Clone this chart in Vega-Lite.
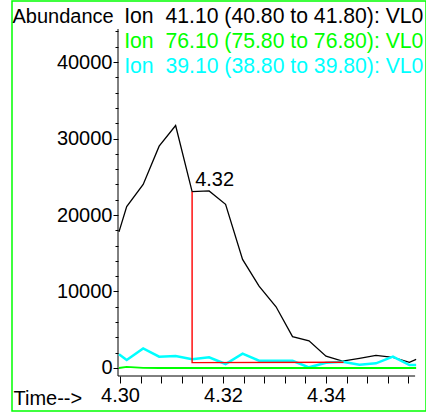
{
  "$schema": "https://vega.github.io/schema/vega-lite/v6.json",
  "autosize": {"type": "none"},
  "padding": {"left": 12, "top": 1, "right": 0, "bottom": 2},
  "width": 414,
  "height": 410,
  "config": {
    "view": {"stroke": "#00ff00", "strokeWidth": 1.5},
    "font": "Liberation Sans"
  },
  "datasets": {
    "ions": [
      {"t": 4.2998, "v": 17800, "ion": "Ion \u00a041.10 (40.80 to 41.80): VL0"},
      {"t": 4.3013, "v": 21100, "ion": "Ion \u00a041.10 (40.80 to 41.80): VL0"},
      {"t": 4.3045, "v": 24000, "ion": "Ion \u00a041.10 (40.80 to 41.80): VL0"},
      {"t": 4.3076, "v": 29000, "ion": "Ion \u00a041.10 (40.80 to 41.80): VL0"},
      {"t": 4.3108, "v": 31700, "ion": "Ion \u00a041.10 (40.80 to 41.80): VL0"},
      {"t": 4.3140, "v": 23050, "ion": "Ion \u00a041.10 (40.80 to 41.80): VL0"},
      {"t": 4.3173, "v": 23150, "ion": "Ion \u00a041.10 (40.80 to 41.80): VL0"},
      {"t": 4.3205, "v": 21400, "ion": "Ion \u00a041.10 (40.80 to 41.80): VL0"},
      {"t": 4.3238, "v": 14200, "ion": "Ion \u00a041.10 (40.80 to 41.80): VL0"},
      {"t": 4.3270, "v": 10700, "ion": "Ion \u00a041.10 (40.80 to 41.80): VL0"},
      {"t": 4.3303, "v": 8000, "ion": "Ion \u00a041.10 (40.80 to 41.80): VL0"},
      {"t": 4.3335, "v": 4100, "ion": "Ion \u00a041.10 (40.80 to 41.80): VL0"},
      {"t": 4.3367, "v": 3550, "ion": "Ion \u00a041.10 (40.80 to 41.80): VL0"},
      {"t": 4.3400, "v": 1550, "ion": "Ion \u00a041.10 (40.80 to 41.80): VL0"},
      {"t": 4.3432, "v": 900, "ion": "Ion \u00a041.10 (40.80 to 41.80): VL0"},
      {"t": 4.3465, "v": 1270, "ion": "Ion \u00a041.10 (40.80 to 41.80): VL0"},
      {"t": 4.3497, "v": 1650, "ion": "Ion \u00a041.10 (40.80 to 41.80): VL0"},
      {"t": 4.3530, "v": 1400, "ion": "Ion \u00a041.10 (40.80 to 41.80): VL0"},
      {"t": 4.3562, "v": 750, "ion": "Ion \u00a041.10 (40.80 to 41.80): VL0"},
      {"t": 4.3575, "v": 1130, "ion": "Ion \u00a041.10 (40.80 to 41.80): VL0"},
      {"t": 4.2998, "v": 1800, "ion": "Ion \u00a039.10 (38.80 to 39.80): VL0"},
      {"t": 4.3013, "v": 1050, "ion": "Ion \u00a039.10 (38.80 to 39.80): VL0"},
      {"t": 4.3045, "v": 2550, "ion": "Ion \u00a039.10 (38.80 to 39.80): VL0"},
      {"t": 4.3076, "v": 1480, "ion": "Ion \u00a039.10 (38.80 to 39.80): VL0"},
      {"t": 4.3108, "v": 1570, "ion": "Ion \u00a039.10 (38.80 to 39.80): VL0"},
      {"t": 4.3140, "v": 1140, "ion": "Ion \u00a039.10 (38.80 to 39.80): VL0"},
      {"t": 4.3173, "v": 1400, "ion": "Ion \u00a039.10 (38.80 to 39.80): VL0"},
      {"t": 4.3205, "v": 520, "ion": "Ion \u00a039.10 (38.80 to 39.80): VL0"},
      {"t": 4.3238, "v": 1870, "ion": "Ion \u00a039.10 (38.80 to 39.80): VL0"},
      {"t": 4.3270, "v": 950, "ion": "Ion \u00a039.10 (38.80 to 39.80): VL0"},
      {"t": 4.3303, "v": 950, "ion": "Ion \u00a039.10 (38.80 to 39.80): VL0"},
      {"t": 4.3335, "v": 950, "ion": "Ion \u00a039.10 (38.80 to 39.80): VL0"},
      {"t": 4.3367, "v": 90, "ion": "Ion \u00a039.10 (38.80 to 39.80): VL0"},
      {"t": 4.3400, "v": 690, "ion": "Ion \u00a039.10 (38.80 to 39.80): VL0"},
      {"t": 4.3432, "v": 820, "ion": "Ion \u00a039.10 (38.80 to 39.80): VL0"},
      {"t": 4.3465, "v": 430, "ion": "Ion \u00a039.10 (38.80 to 39.80): VL0"},
      {"t": 4.3497, "v": 610, "ion": "Ion \u00a039.10 (38.80 to 39.80): VL0"},
      {"t": 4.3530, "v": 1480, "ion": "Ion \u00a039.10 (38.80 to 39.80): VL0"},
      {"t": 4.3562, "v": 390, "ion": "Ion \u00a039.10 (38.80 to 39.80): VL0"},
      {"t": 4.3575, "v": 390, "ion": "Ion \u00a039.10 (38.80 to 39.80): VL0"},
      {"t": 4.2998, "v": 0, "ion": "Ion \u00a076.10 (75.80 to 76.80): VL0"},
      {"t": 4.3013, "v": 150, "ion": "Ion \u00a076.10 (75.80 to 76.80): VL0"},
      {"t": 4.3045, "v": 20, "ion": "Ion \u00a076.10 (75.80 to 76.80): VL0"},
      {"t": 4.3076, "v": 0, "ion": "Ion \u00a076.10 (75.80 to 76.80): VL0"},
      {"t": 4.3108, "v": 0, "ion": "Ion \u00a076.10 (75.80 to 76.80): VL0"},
      {"t": 4.3140, "v": 0, "ion": "Ion \u00a076.10 (75.80 to 76.80): VL0"},
      {"t": 4.3173, "v": 0, "ion": "Ion \u00a076.10 (75.80 to 76.80): VL0"},
      {"t": 4.3205, "v": 0, "ion": "Ion \u00a076.10 (75.80 to 76.80): VL0"},
      {"t": 4.3238, "v": 0, "ion": "Ion \u00a076.10 (75.80 to 76.80): VL0"},
      {"t": 4.3270, "v": 0, "ion": "Ion \u00a076.10 (75.80 to 76.80): VL0"},
      {"t": 4.3303, "v": 0, "ion": "Ion \u00a076.10 (75.80 to 76.80): VL0"},
      {"t": 4.3335, "v": 0, "ion": "Ion \u00a076.10 (75.80 to 76.80): VL0"},
      {"t": 4.3367, "v": 0, "ion": "Ion \u00a076.10 (75.80 to 76.80): VL0"},
      {"t": 4.3400, "v": 0, "ion": "Ion \u00a076.10 (75.80 to 76.80): VL0"},
      {"t": 4.3432, "v": 0, "ion": "Ion \u00a076.10 (75.80 to 76.80): VL0"},
      {"t": 4.3465, "v": 0, "ion": "Ion \u00a076.10 (75.80 to 76.80): VL0"},
      {"t": 4.3497, "v": 0, "ion": "Ion \u00a076.10 (75.80 to 76.80): VL0"},
      {"t": 4.3530, "v": 0, "ion": "Ion \u00a076.10 (75.80 to 76.80): VL0"},
      {"t": 4.3562, "v": 0, "ion": "Ion \u00a076.10 (75.80 to 76.80): VL0"},
      {"t": 4.3575, "v": 0, "ion": "Ion \u00a076.10 (75.80 to 76.80): VL0"}
    ],
    "integration": [
      {"t": 4.3140, "v": 23050, "o": 1},
      {"t": 4.3140, "v": 700, "o": 2},
      {"t": 4.3434, "v": 760, "o": 3}
    ],
    "peak": [
      {"t": 4.3146, "v": 23790, "label": "4.32"}
    ],
    "frame": [
      {"t0": 4.299612, "t1": 4.3573, "v0": -1046, "v1": 44314}
    ]
  },
  "layer": [
    {
      "data": {"name": "frame"},
      "mark": {"type": "rule", "color": "black", "strokeWidth": 1},
      "encoding": {
        "x": {"field": "t0", "type": "quantitative"},
        "y": {"field": "v0", "type": "quantitative"},
        "y2": {"field": "v1"}
      }
    },
    {
      "data": {"name": "frame"},
      "mark": {"type": "rule", "color": "black", "strokeWidth": 1},
      "encoding": {
        "x": {"field": "t0", "type": "quantitative"},
        "x2": {"field": "t1"},
        "y": {"field": "v0", "type": "quantitative"}
      }
    },
    {
      "data": {"name": "ions"},
      "mark": {"type": "line", "strokeJoin": "miter"},
      "encoding": {
        "x": {
          "field": "t", "type": "quantitative",
          "scale": {"domain": [4.279029, 4.359417], "nice": false, "zero": false},
          "axis": {
            "orient": "bottom", "offset": -35, "domain": false, "grid": false,
            "values": [4.3, 4.304, 4.308, 4.312, 4.316, 4.32, 4.324, 4.328, 4.332, 4.336, 4.34, 4.344, 4.348, 4.352, 4.356],
            "tickCount": 100,
            "tickSize": 7, "tickColor": "black", "tickWidth": 1,
            "labelExpr": "abs(datum.value*50 - round(datum.value*50)) < 0.001 ? format(datum.value, '.2f') : ''",
            "labelFont": "Liberation Sans", "labelFontSize": 20, "labelColor": "black",
            "labelPadding": 2, "labelFlush": false, "labelOverlap": false,
            "title": "Time-->", "titleFont": "Liberation Sans", "titleFontSize": 20,
            "titleFontWeight": "normal", "titleColor": "black",
            "titleX": 1, "titleY": 28, "titleAlign": "left", "titleBaseline": "alphabetic", "titleAngle": 0
          }
        },
        "y": {
          "field": "v", "type": "quantitative",
          "scale": {"domain": [-5621, 47974], "nice": false, "zero": false},
          "axis": {
            "orient": "left", "offset": -106, "domain": false, "grid": false,
            "values": [0, 2000, 4000, 6000, 8000, 10000, 12000, 14000, 16000, 18000, 20000, 22000, 24000, 26000, 28000, 30000, 32000, 34000, 36000, 38000, 40000, 42000, 44000],
            "tickCount": 100,
            "tickSize": {"condition": {"test": "datum.value % 10000 === 0", "value": 5}, "value": 3},
            "tickColor": "black", "tickWidth": 1,
            "labelExpr": "datum.value % 10000 === 0 ? format(datum.value, 'd') : ''",
            "labelFont": "Liberation Sans", "labelFontSize": 20, "labelColor": "black",
            "labelPadding": 1, "labelOverlap": false, "labelFlush": false,
            "title": "Abundance", "titleFont": "Liberation Sans", "titleFontSize": 20,
            "titleFontWeight": "normal", "titleColor": "black",
            "titleX": -106, "titleY": 21, "titleAlign": "left", "titleBaseline": "alphabetic", "titleAngle": 0
          }
        },
        "color": {
          "field": "ion", "type": "nominal",
          "scale": {
            "domain": ["Ion \u00a041.10 (40.80 to 41.80): VL0", "Ion \u00a076.10 (75.80 to 76.80): VL0", "Ion \u00a039.10 (38.80 to 39.80): VL0"],
            "range": ["#000000", "#00ff00", "#00ffff"]
          },
          "legend": {
            "orient": "none", "legendX": 91, "legendY": 5, "title": null,
            "labelFont": "Liberation Sans", "labelFontSize": 21.2, "labelLimit": 0,
            "symbolOpacity": 0, "symbolSize": 0, "symbolStrokeWidth": 0,
            "labelOffset": 0, "rowPadding": 3,
            "encode": {"labels": {"update": {"fill": {"scale": "color", "field": "value"}}}}
          }
        },
        "strokeWidth": {
          "field": "ion", "type": "nominal",
          "scale": {
            "domain": ["Ion \u00a041.10 (40.80 to 41.80): VL0", "Ion \u00a076.10 (75.80 to 76.80): VL0", "Ion \u00a039.10 (38.80 to 39.80): VL0"],
            "range": [1.3, 2.5, 1.4]
          },
          "legend": null
        }
      }
    },
    {
      "data": {"name": "integration"},
      "mark": {"type": "line", "color": "#ff0000", "strokeWidth": 1.4},
      "encoding": {
        "x": {"field": "t", "type": "quantitative"},
        "y": {"field": "v", "type": "quantitative"},
        "order": {"field": "o"}
      }
    },
    {
      "data": {"name": "peak"},
      "mark": {"type": "text", "align": "left", "baseline": "alphabetic", "font": "Liberation Sans", "fontSize": 20, "color": "black"},
      "encoding": {
        "x": {"field": "t", "type": "quantitative"},
        "y": {"field": "v", "type": "quantitative"},
        "text": {"field": "label"}
      }
    }
  ]
}
